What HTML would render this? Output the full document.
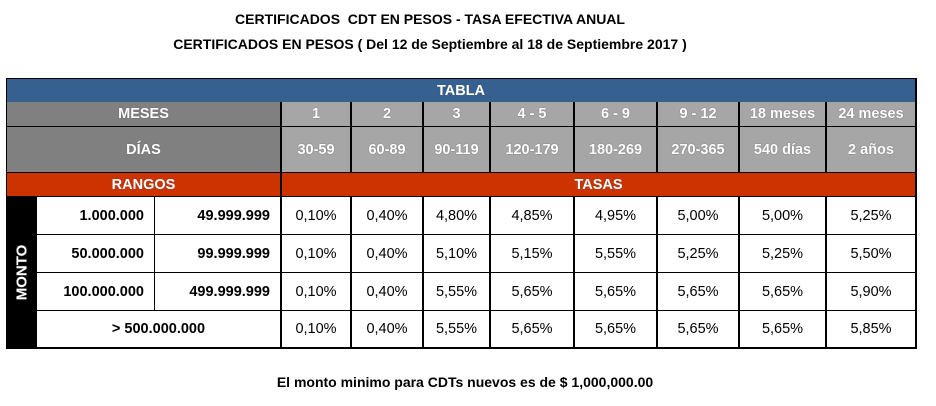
<!DOCTYPE html>
<html><head><meta charset="utf-8"><style>
body{margin:0;background:#fff;width:936px;height:406px;position:relative;overflow:hidden;font-family:"Liberation Sans",Arial,sans-serif}
.t{position:absolute;left:0;width:860px;text-align:center;font-weight:bold;font-size:14px;color:#000}
#tbl{position:absolute;left:6px;top:78px;width:911px;height:271px;background:#000}
.c{position:absolute;display:flex;align-items:center;justify-content:center;box-sizing:border-box;font-size:14.5px}
.h{color:#fff;font-weight:bold;text-shadow:0 0 1px #555}
</style></head><body>
<div class="t" style="top:11px">CERTIFICADOS&nbsp; CDT EN PESOS - TASA EFECTIVA ANUAL</div>
<div class="t" style="top:36px">CERTIFICADOS EN PESOS ( Del 12 de Septiembre al 18 de Septiembre 2017 )</div>
<div id="tbl"></div>
<div class="t" style="top:374px;left:0;width:930px">El monto minimo para CDTs nuevos es de $ 1,000,000.00</div>
<script>
const meses=["1","2","3","4 - 5","6 - 9","9 - 12","18 meses","24 meses"];
const dias=["30-59","60-89","90-119","120-179","180-269","270-365","540 días","2 años"];
const rangeFrom=["1.000.000","50.000.000","100.000.000"];
const rangeTo=["49.999.999","99.999.999","499.999.999"];
const rates=[
["0,10%","0,40%","4,80%","4,85%","4,95%","5,00%","5,00%","5,25%"],
["0,10%","0,40%","5,10%","5,15%","5,55%","5,25%","5,25%","5,50%"],
["0,10%","0,40%","5,55%","5,65%","5,65%","5,65%","5,65%","5,90%"],
["0,10%","0,40%","5,55%","5,65%","5,65%","5,65%","5,65%","5,85%"]];
const T=document.getElementById('tbl');
const OX=6,OY=78;
const cx=[[282,349],[352,421],[424,488],[491,572],[575,655],[658,737],[740,824],[827,914]];
const ry=[[197,233],[235,271],[273,309],[311,346]];
function cell(x1,y1,x2,y2,txt,bg,cls,name,extra){
  const d=document.createElement('div');
  
  
  d.className='c '+(cls||'');
  d.style.left=(x1-OX)+'px';d.style.top=(y1-OY)+'px';
  d.style.width=(x2-x1+1)+'px';d.style.height=(y2-y1+1)+'px';
  d.style.background=bg;d.textContent=txt;
  if(extra)Object.assign(d.style,extra);
  T.appendChild(d);return d;
}
cell(7,79,914,101,'TABLA','#36608f','h','tabla-header');
cell(7,102,279,125,'MESES','#808080','h','meses-label');
cell(7,127,279,171,'DÍAS','#808080','h','dias-label');
cell(7,173,279,195,'RANGOS','#cc3300','h','rangos-header');
cell(282,173,914,195,'TASAS','#cc3300','h','tasas-header');
meses.forEach((m,i)=>cell(cx[i][0],102,cx[i][1],125,m,'#a6a6a6','h','meses-'+i));
dias.forEach((m,i)=>cell(cx[i][0],127,cx[i][1],171,m,'#a6a6a6','h','dias-'+i));
const mo=cell(7,196,35,348,'','#000','h','monto-label');
const sp=document.createElement('span');


sp.textContent='MONTO';sp.style.transform='rotate(-90deg)';sp.style.display='inline-block';sp.style.fontSize='15px';
mo.appendChild(sp);
rangeFrom.forEach((r,i)=>{
  cell(37,ry[i][0],153,ry[i][1],r,'#fff','','range-from-'+i,{justifyContent:'flex-end',paddingRight:'10px',fontWeight:'bold'});
  cell(155,ry[i][0],279,ry[i][1],rangeTo[i],'#fff','','range-to-'+i,{justifyContent:'flex-end',paddingRight:'10px',fontWeight:'bold'});
});
cell(37,ry[3][0],279,ry[3][1],'> 500.000.000','#fff','','range-over-500m',{fontWeight:'bold'});
rates.forEach((row,r)=>row.forEach((v,i)=>cell(cx[i][0],ry[r][0],cx[i][1],ry[r][1],v,'#fff','','rate-r'+r+'-c'+i)));
</script>
</body></html>
